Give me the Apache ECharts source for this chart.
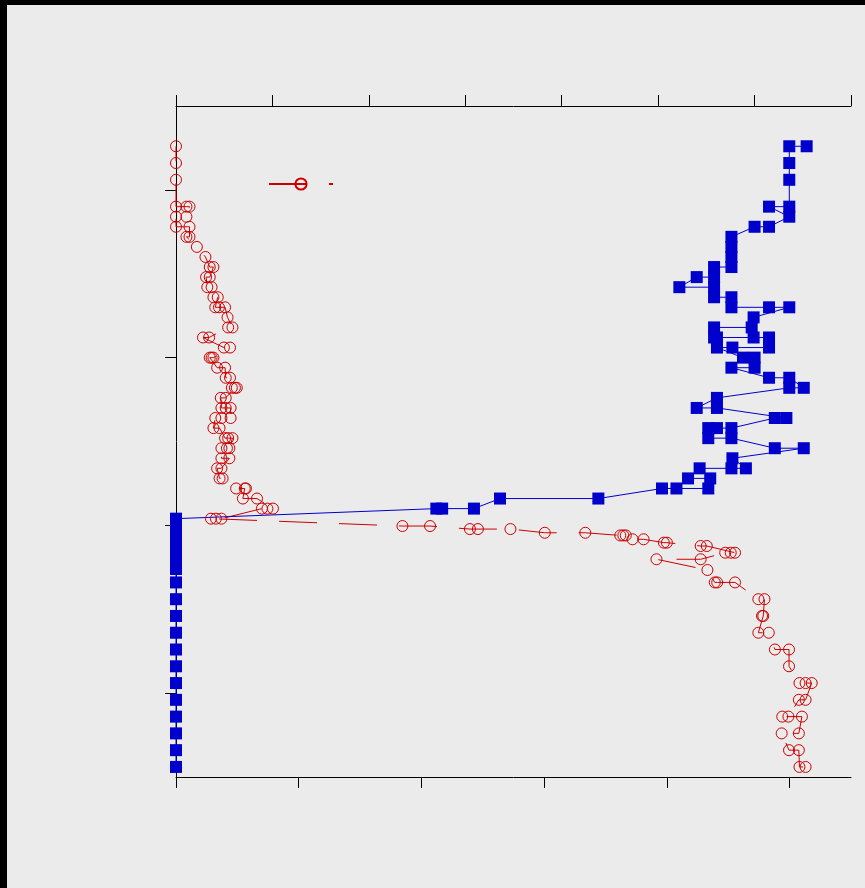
<!DOCTYPE html>
<html><head><meta charset="utf-8">
<script src="https://cdn.jsdelivr.net/npm/echarts@6/dist/echarts.min.js"></script>
<style>
html,body{margin:0;padding:0;background:#000;width:865px;height:888px;overflow:hidden}
#c{position:absolute;left:7px;top:5px;width:858px;height:883px;background:#ebebeb}
</style>
</head><body><div id="c"></div>
<script>
// Tick values
const bottomTicks = [0, 20, 40, 60, 80, 100];
const leftTicks = [50, 150, 250, 350];

// Red series (bottom axis) values, in drawing order
const redX = [0,0,0, 0,1.7,2.2, 1.7,0, 0,2.2, 2.2,1.7, 3.4, 4.8, 5.5,6.1, 5.5,4.9, 5.1,5.8, 6.1,6.8, 6.4,7.0,8.0, 8.4,
  9.2,8.5, 5.4,4.4, 7.8,8.8, 6.1,5.8,5.5, 6.7,8.0, 8.1,8.8, 9.1,9.6,9.9, 8.1,7.3, 7.4,8.1,8.9, 8.9,7.4,6.4,
  6.1,7.1, 8.0,8.5,9.2, 8.7,8.3,7.4, 7.4,8.7, 7.4,6.7, 7.1,7.6, 9.8,11.2,11.4, 10.9,13.2, 15.8,14.9,14.0, 7.4,6.5,5.7,
  36.9,41.4, 47.9,49.2,54.5, 60.1,66.7, 72.4,72.9,73.3, 74.4,76.2, 79.5,80.0, 85.5,86.5, 91.1,90.4,89.5, 85.5,78.3,
  86.6, 87.8,88.2,91.1, 94.9,95.9, 95.7,95.5, 94.9,96.6, 97.6,99.9, 99.9, 101.6,102.6,103.6, 102.6,101.5,
  99.8,98.8,102.0, 101.5,98.7, 99.9,101.5, 101.6,102.6];
const redY = [376,366,356, 340,340,340, 334,334, 328,328, 322,322, 316, 310, 304,304, 298,298, 292,292, 286,286, 280,280,280, 274,
  268,268, 262,262, 256,256, 250,250,250, 244,244, 238,238, 232,232,232, 226,226, 220,220,220, 214,214,214,
  208,208, 202,202,202, 196,196,196, 190,190, 184,184, 178,178, 172,172,172, 166,166, 160,160,160, 154,154,154,
  149.6,149.6, 147.8,147.8,147.8, 145.6,145.6, 144,144,144, 141.7,141.7, 139.7,139.7, 137.7,137.7, 133.7,133.7,133.7, 129.8,129.8,
  123.4, 116,116,116, 106,106, 96,96, 86,86, 76,76, 66, 56,56,56, 46,46,
  36,36,36, 26,26, 16,16, 6,6];

// Blue series (top axis) values, in drawing order
const blueX = [65.4,63.6, 63.6, 63.6, 63.6,61.5, 63.6, 61.5,60.0, 57.6,57.6,57.6, 57.6,55.8, 55.8,54.0, 52.2,55.8, 55.8,57.6,
  57.6,61.5,63.6, 59.9, 59.7,55.8, 55.8,56.1,59.9,61.5, 61.5,57.7,56.1, 58.8,60.0, 60.0,57.6, 61.5,63.6, 65.1,63.6,
  56.1, 54.0,56.1, 63.3,62.1, 57.6,56.1,55.2, 55.2,57.6, 62.1,65.1, 57.7, 59.1,57.6,54.3, 53.1,55.4, 55.2,51.9,50.4,
  43.8,33.6, 30.9,27.6,27.0, 0,0,0,0,0,0, 0,0,0,0,0,0,0,0,0,0,0,0];
const blueY = [376,376, 366, 356, 340,340, 334, 328,328, 322,316,310, 304,304, 298,298, 292,292, 286,286,
  280,280,280, 274, 268,268, 262,262,262,262, 256,256,256, 250,250, 244,244, 238,238, 232,232,
  226, 220,220, 214,214, 208,208,208, 202,202, 196,196, 190, 184,184,184, 178,178, 172,172,172,
  166,166, 160,160,160, 154,148,142,136,130,124, 116,106,96,86,76,66,56,46,36,26,16,6];

const redData = redX.map((v, i) => [v, redY[i]]);
const blueData = blueX.map((v, i) => [v, blueY[i]]);

const RED = '#cd0000', BLUE = '#0000cd';
const axisLine = {show: true, onZero: false, lineStyle: {color: '#000', width: 1}};

const chart = echarts.init(document.getElementById('c'), null, {renderer: 'canvas'});
chart.setOption({
  animation: false,
  backgroundColor: '#ebebeb',
  grid: {left: 169, top: 101, width: 675, height: 671, containLabel: false},
  legend: {
    data: ['red'], left: 261, top: 172, padding: 0,
    itemWidth: 64, itemHeight: 14,
    lineStyle: {dashOffset: 0},
    formatter: function () { return ''; }
  },
  xAxis: [
    {type: 'value', position: 'bottom', min: 0, max: 110,
     axisLine: axisLine,
     axisTick: {show: true, length: 11, lineStyle: {color: '#000'}, customValues: bottomTicks},
     axisLabel: {show: false}, splitLine: {show: false}},
    {type: 'value', position: 'top', min: 0, max: 70, interval: 10,
     axisLine: axisLine,
     axisTick: {show: true, length: 11, lineStyle: {color: '#000'}},
     axisLabel: {show: false}, splitLine: {show: false}}
  ],
  yAxis: [
    {type: 'value', position: 'left', min: 0, max: 400,
     axisLine: axisLine,
     axisTick: {show: true, length: 11, lineStyle: {color: '#000'}, customValues: leftTicks},
     axisLabel: {show: false}, splitLine: {show: false}}
  ],
  series: [
    {name: 'red', type: 'line', xAxisIndex: 0, yAxisIndex: 0, data: redData,
     symbol: 'circle', symbolSize: 11,
     itemStyle: {color: 'rgba(0,0,0,0)', borderColor: RED, borderWidth: 1},
     lineStyle: {color: RED, width: 1, type: [38, 22], dashOffset: 23},
     emphasis: {disabled: true}},
    {name: 'blue', type: 'line', xAxisIndex: 1, yAxisIndex: 0, data: blueData,
     symbol: 'rect', symbolSize: 12,
     itemStyle: {color: BLUE},
     lineStyle: {color: BLUE, width: 1},
     emphasis: {disabled: true}}
  ]
});
</script></body></html>
